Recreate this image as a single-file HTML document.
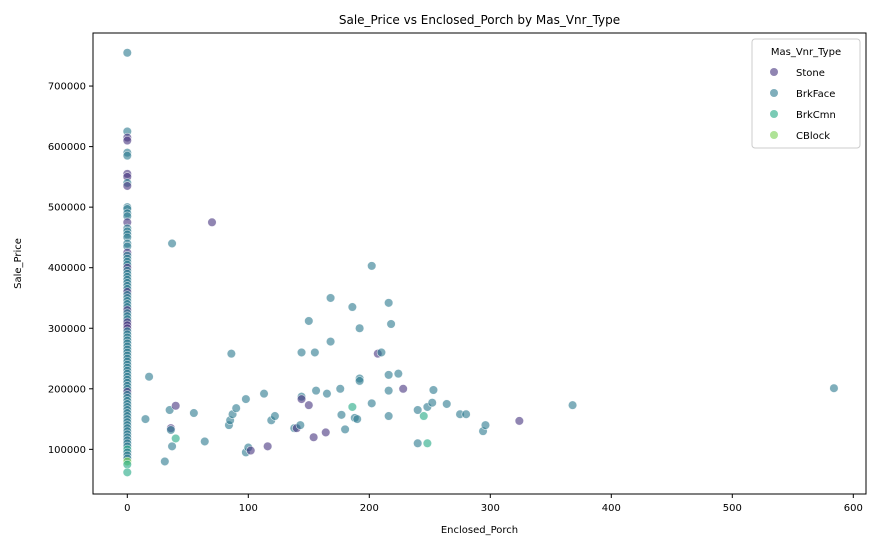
<!DOCTYPE html>
<html><head><meta charset="utf-8">
<style>
html,body{margin:0;padding:0;background:#fff;}
svg{display:block;font-family:"DejaVu Sans","Liberation Sans",sans-serif;}
</style></head>
<body>
<svg id="chart" width="877" height="547"></svg>
<script>
const categories = ["Stone","BrkFace","BrkCmn","CBlock"];
const colors = ["#46337e","#2a788e","#22a884","#7ad151"];
const xTicks = [0,100,200,300,400,500,600];
const yTicks = [100000,200000,300000,400000,500000,600000,700000];
// points away from zero: [enclosed_porch, sale_price, category index]
const porchVals = [70,37,18,15,35,36,36,37,40,40,31,55,64,84,85,86,87,90,98,98,100,102,113,116,119,122,138,140,143,144,144,144,150,150,154,155,156,164,165,168,168,176,177,180,186,186,188,190,192,192,192,202,202,207,210,216,216,216,216,218,224,228,240,240,245,248,248,252,253,264,275,280,294,296,324,368,584];
const priceVals = [475000,440000,220000,150000,165000,135000,132000,105000,172000,118000,80000,160000,113000,140000,148000,258000,158000,168000,183000,95000,103000,98000,192000,105000,148000,155000,135000,135000,140000,260000,187000,183000,312000,173000,120000,260000,197000,128000,192000,350000,278000,200000,157000,133000,335000,170000,152000,150000,300000,217000,213000,403000,176000,258000,260000,342000,223000,197000,155000,307000,225000,200000,165000,110000,155000,110000,170000,177000,198000,175000,158000,158000,130000,140000,147000,173000,201000];
const typeVals = [0,1,1,1,1,0,1,1,0,2,1,1,1,1,1,1,1,1,1,1,1,0,1,0,1,1,1,0,1,1,1,0,1,0,0,1,1,0,1,1,1,1,1,1,1,2,1,1,1,1,1,1,1,0,1,1,1,1,1,1,1,0,1,1,2,2,1,1,1,1,1,1,1,1,0,1,1];
// points at zero porch
const zeroPrices = [755000,625000,615000,610000,590000,585000,555000,550000,540000,535000,500000,497000,490000,485000,475000,465000,460000,455000,450000,440000,435000,425000,420000,415000,410000,405000,400000,395000,390000,385000,380000,375000,370000,365000,360000,355000,350000,345000,340000,335000,330000,325000,320000,315000,310000,305000,300000,295000,290000,285000,280000,275000,270000,265000,260000,255000,250000,245000,240000,235000,230000,225000,220000,215000,210000,205000,200000,195000,190000,185000,180000,175000,170000,165000,160000,155000,150000,145000,140000,135000,130000,125000,120000,115000,110000,105000,100000,95000,90000,85000,80000,75000,62000];
const zeroTypes = [1,1,0,0,1,1,0,0,1,0,1,1,1,1,0,1,1,1,1,1,1,0,1,1,1,1,0,1,1,1,1,1,1,1,0,1,1,1,1,1,0,1,1,1,0,0,0,1,1,1,1,1,1,1,1,1,1,1,1,1,1,1,1,1,1,1,1,0,1,1,1,1,1,1,1,1,1,1,1,1,1,1,1,1,1,1,2,1,1,1,3,2,2];

const L=93,R=866,T=33,B=494;
const x = v => 127.3 + v*1.21;
const y = v => 509.9 - v*60.55/100000;
const svg=document.getElementById('chart');
const NS="http://www.w3.org/2000/svg";
function mk(tag,attrs,parent){const e=document.createElementNS(NS,tag);for(const k in attrs)e.setAttribute(k,attrs[k]);(parent||svg).appendChild(e);return e;}

const pts=mk('g',{});


function dot(px,py,c){
  const d=mk('circle',{cx:x(px),cy:y(py),r:4.3,fill:colors[c],'fill-opacity':0.6,stroke:'#fff','stroke-width':0.6,'stroke-opacity':0.8},pts);
  
  
}
zeroPrices.forEach((p,i)=>dot(0,p,zeroTypes[i]));
porchVals.forEach((p,i)=>dot(p,priceVals[i],typeVals[i]));

const frame=mk('rect',{x:L,y:T,width:R-L,height:B-T,fill:'none',stroke:'#000','stroke-width':1});



xTicks.forEach(t=>{
  mk('line',{x1:x(t),x2:x(t),y1:B,y2:B+4,stroke:'#000'});
  const tx=mk('text',{x:x(t),y:B+17,'text-anchor':'middle','font-size':10,fill:'#000'});
  tx.textContent=t;
  
  
});
yTicks.forEach(t=>{
  mk('line',{x1:L-4,x2:L,y1:y(t),y2:y(t),stroke:'#000'});
  const tx=mk('text',{x:L-7,y:y(t)+3.5,'text-anchor':'end','font-size':10,fill:'#000'});
  tx.textContent=t;
  
  
});
let t=mk('text',{x:(L+R)/2,y:24,'text-anchor':'middle','font-size':12});
t.textContent='Sale_Price vs Enclosed_Porch by Mas_Vnr_Type';


t=mk('text',{x:(L+R)/2,y:533,'text-anchor':'middle','font-size':10});
t.textContent='Enclosed_Porch';


t=mk('text',{x:21,y:(T+B)/2,'text-anchor':'middle','font-size':10,transform:'rotate(-90 21 '+((T+B)/2)+')'});
t.textContent='Sale_Price';



const lg=mk('g',{});


mk('rect',{x:752,y:39,width:108,height:109,rx:3,fill:'#fff','fill-opacity':0.8,stroke:'#ccc'},lg);
t=mk('text',{x:806,y:55,'text-anchor':'middle','font-size':10},lg);
t.textContent='Mas_Vnr_Type';
categories.forEach((c,i)=>{
  const cy=72+i*21;
  const e=mk('g',{},lg);
  
  
  mk('circle',{cx:774,cy:cy,r:4,fill:colors[i],'fill-opacity':0.6},e);
  const tx=mk('text',{x:796,y:cy+4,'font-size':10},e);
  tx.textContent=c;
});
</script>
</body></html>
